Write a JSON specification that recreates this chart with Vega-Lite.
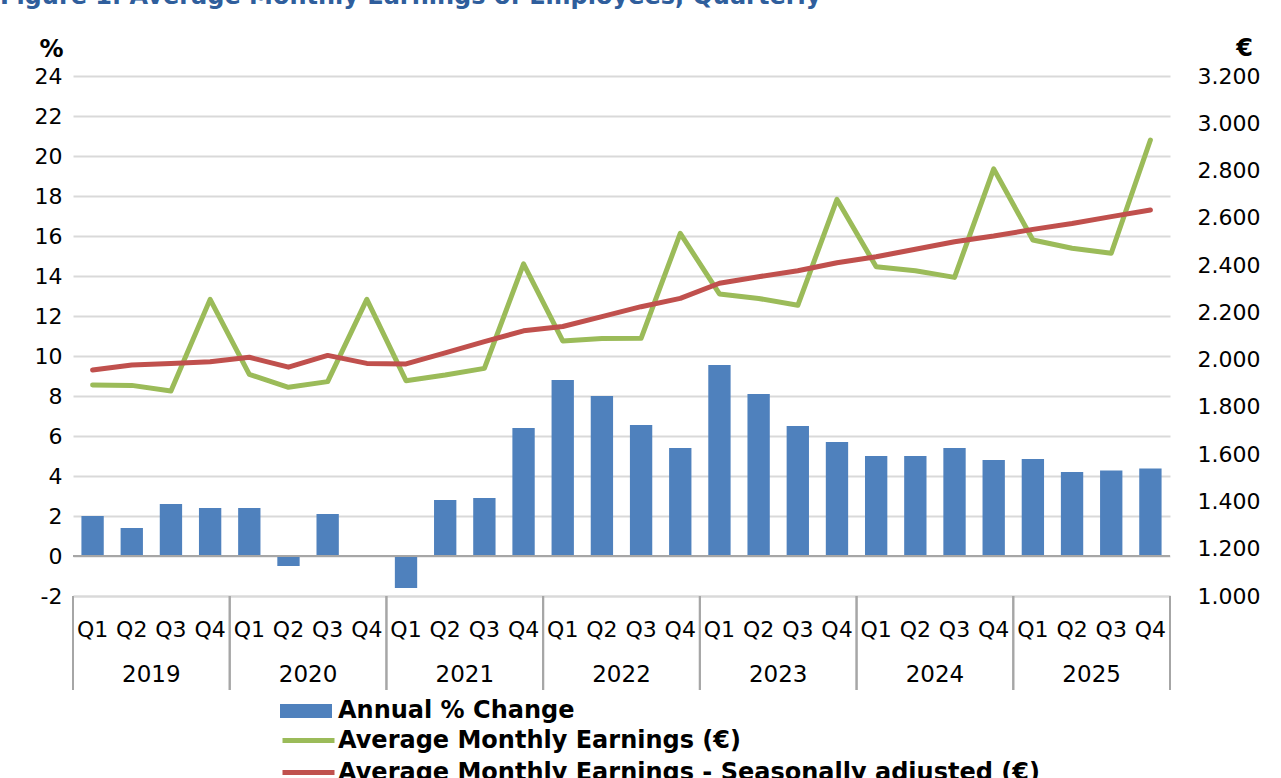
{
  "$schema": "https://vega.github.io/schema/vega-lite/v6.json",
  "width": 1097,
  "height": 520,
  "autosize": {"type": "none"},
  "padding": {"left": 73, "top": 76, "right": 111, "bottom": 182},
  "background": "white",
  "title": {
    "text": "Figure 1. Average Monthly Earnings of Employees, Quarterly",
    "anchor": "start",
    "frame": "group",
    "font": "DejaVu Sans",
    "fontSize": 24,
    "fontWeight": "bold",
    "color": "#2f5e9c",
    "dx": -73,
    "offset": 27
  },
  "config": {
    "view": {"stroke": null},
    "font": "DejaVu Sans",
    "axis": {"labelFont": "DejaVu Sans", "labelFontSize": 22, "labelColor": "#000000", "titleFont": "DejaVu Sans", "titleColor": "#000000", "labelOverlap": false},
    "axisLeft": {"tickCount": 14}
  },
  "data": {
    "values": [
      {"q": "2019 Q1", "year": "2019", "quarter": "Q1", "change": 2.0, "earn": 1893, "sa": 1956},
      {"q": "2019 Q2", "year": "2019", "quarter": "Q2", "change": 1.4, "earn": 1891, "sa": 1977},
      {"q": "2019 Q3", "year": "2019", "quarter": "Q3", "change": 2.6, "earn": 1867, "sa": 1984},
      {"q": "2019 Q4", "year": "2019", "quarter": "Q4", "change": 2.4, "earn": 2255, "sa": 1991},
      {"q": "2020 Q1", "year": "2020", "quarter": "Q1", "change": 2.4, "earn": 1938, "sa": 2010},
      {"q": "2020 Q2", "year": "2020", "quarter": "Q2", "change": -0.5, "earn": 1883, "sa": 1968},
      {"q": "2020 Q3", "year": "2020", "quarter": "Q3", "change": 2.1, "earn": 1907, "sa": 2018},
      {"q": "2020 Q4", "year": "2020", "quarter": "Q4", "change": 0.0, "earn": 2255, "sa": 1984},
      {"q": "2021 Q1", "year": "2021", "quarter": "Q1", "change": -1.6, "earn": 1911, "sa": 1982},
      {"q": "2021 Q2", "year": "2021", "quarter": "Q2", "change": 2.8, "earn": 1935, "sa": 2029},
      {"q": "2021 Q3", "year": "2021", "quarter": "Q3", "change": 2.9, "earn": 1963, "sa": 2076},
      {"q": "2021 Q4", "year": "2021", "quarter": "Q4", "change": 6.4, "earn": 2405, "sa": 2122},
      {"q": "2022 Q1", "year": "2022", "quarter": "Q1", "change": 8.8, "earn": 2079, "sa": 2140},
      {"q": "2022 Q2", "year": "2022", "quarter": "Q2", "change": 8.0, "earn": 2089, "sa": 2182},
      {"q": "2022 Q3", "year": "2022", "quarter": "Q3", "change": 6.55, "earn": 2090, "sa": 2224},
      {"q": "2022 Q4", "year": "2022", "quarter": "Q4", "change": 5.4, "earn": 2534, "sa": 2259},
      {"q": "2023 Q1", "year": "2023", "quarter": "Q1", "change": 9.55, "earn": 2278, "sa": 2323},
      {"q": "2023 Q2", "year": "2023", "quarter": "Q2", "change": 8.1, "earn": 2259, "sa": 2351},
      {"q": "2023 Q3", "year": "2023", "quarter": "Q3", "change": 6.5, "earn": 2230, "sa": 2376},
      {"q": "2023 Q4", "year": "2023", "quarter": "Q4", "change": 5.7, "earn": 2678, "sa": 2410},
      {"q": "2024 Q1", "year": "2024", "quarter": "Q1", "change": 5.0, "earn": 2393, "sa": 2435},
      {"q": "2024 Q2", "year": "2024", "quarter": "Q2", "change": 5.0, "earn": 2376, "sa": 2467},
      {"q": "2024 Q3", "year": "2024", "quarter": "Q3", "change": 5.4, "earn": 2348, "sa": 2499},
      {"q": "2024 Q4", "year": "2024", "quarter": "Q4", "change": 4.8, "earn": 2807, "sa": 2523},
      {"q": "2025 Q1", "year": "2025", "quarter": "Q1", "change": 4.85, "earn": 2506, "sa": 2551},
      {"q": "2025 Q2", "year": "2025", "quarter": "Q2", "change": 4.2, "earn": 2471, "sa": 2576},
      {"q": "2025 Q3", "year": "2025", "quarter": "Q3", "change": 4.27, "earn": 2450, "sa": 2605},
      {"q": "2025 Q4", "year": "2025", "quarter": "Q4", "change": 4.37, "earn": 2929, "sa": 2633}
    ]
  },
  "layer": [
    {
      "layer": [
        {
          "mark": {"type": "bar"},
          "encoding": {
            "x": {
              "field": "q", "type": "ordinal", "title": null,
              "scale": {"paddingInner": 0.43, "paddingOuter": 0.215},
              "axis": {"orient": "bottom", "labelExpr": "slice(datum.value, 5)", "labelAngle": 0, "ticks": false, "domainColor": "#d9d9d9", "domainWidth": 2, "labelPadding": 23, "grid": false, "labelOverlap": false}
            },
            "y": {
              "field": "change", "type": "quantitative",
              "scale": {"domain": [-2, 24], "nice": false, "zero": false},
              "axis": {
                "orient": "left", "values": [-2, 0, 2, 4, 6, 8, 10, 12, 14, 16, 18, 20, 22, 24], "tickCount": 14,
                "labelExpr": "'' + datum.value", "labelOverlap": false, "labelBound": false, "labelFlush": false,
                "domain": false, "ticks": false, "grid": true, "gridColor": "#d9d9d9", "gridWidth": 2,
                "labelPadding": 11,
                "title": "%", "titleAngle": 0, "titleX": -22, "titleY": -27, "titleAlign": "center", "titleBaseline": "middle",
                "titleFontSize": 24, "titleFontWeight": "bold"
              }
            },
            "fill": {
              "datum": "Annual % Change",
              "scale": {"domain": ["Annual % Change"], "range": ["#4f81bd"]},
              "legend": {
                "orient": "none", "legendX": 207, "legendY": 609, "title": null,
                "labelFont": "DejaVu Sans", "labelFontSize": 24, "labelFontWeight": "bold", "labelColor": "#000000",
                "symbolType": "M-1,-0.27L1,-0.27L1,0.27L-1,0.27Z", "symbolSize": 2704, "symbolStrokeWidth": 0,
                "labelOffset": 6, "labelLimit": 1000
              }
            }
          }
        },
        {
          "mark": {"type": "rule", "color": "#a6a6a6", "strokeWidth": 2},
          "encoding": {"y": {"datum": 0, "type": "quantitative"}}
        },
        {
          "transform": [{"filter": "datum.quarter === 'Q1'"}],
          "mark": {"type": "rule", "color": "#a6a6a6", "strokeWidth": 2},
          "encoding": {
            "x": {"field": "q", "type": "ordinal", "bandPosition": -0.377},
            "y": {"datum": -2, "type": "quantitative"},
            "y2": {"datum": -6.7}
          }
        },
        {
          "transform": [{"filter": "datum.quarter === 'Q4'"}],
          "mark": {"type": "rule", "color": "#a6a6a6", "strokeWidth": 2},
          "encoding": {
            "x": {"field": "q", "type": "ordinal", "bandPosition": 1.377},
            "y": {"datum": -2, "type": "quantitative"},
            "y2": {"datum": -6.7}
          }
        },
        {
          "transform": [{"filter": "datum.quarter === 'Q2'"}],
          "mark": {"type": "text", "font": "DejaVu Sans", "fontSize": 23, "color": "#000000", "baseline": "middle", "align": "center"},
          "encoding": {
            "x": {"field": "q", "type": "ordinal", "bandPosition": 1.377},
            "y": {"datum": -5.95, "type": "quantitative"},
            "text": {"field": "year"}
          }
        }
      ]
    },
    {
      "layer": [
        {
          "mark": {"type": "line", "strokeWidth": 5, "strokeCap": "round", "strokeJoin": "round"},
          "encoding": {
            "x": {"field": "q", "type": "ordinal"},
            "y": {
              "field": "earn", "type": "quantitative",
              "scale": {"domain": [1000, 3200], "nice": false, "zero": false},
              "axis": {
                "orient": "right", "values": [1000, 1200, 1400, 1600, 1800, 2000, 2200, 2400, 2600, 2800, 3000, 3200],
                "labelExpr": "replace(format(datum.value, ',.0f'), ',', '.')", "labelOverlap": false,
                "domain": false, "ticks": false, "grid": false, "labelPadding": 27,
                "title": "€", "titleAngle": 0, "titleX": 74, "titleY": -28, "titleAlign": "center", "titleBaseline": "middle",
                "titleFontSize": 24, "titleFontWeight": "bold"
              }
            },
            "stroke": {
              "datum": "Average Monthly Earnings (€)",
              "scale": {"domain": ["Average Monthly Earnings (€)"], "range": ["#9bbb59"]},
              "legend": {
                "orient": "none", "legendX": 207, "legendY": 636, "title": null,
                "labelFont": "DejaVu Sans", "labelFontSize": 24, "labelFontWeight": "bold", "labelColor": "#000000",
                "symbolType": "stroke", "symbolSize": 2704, "symbolStrokeWidth": 5,
                "labelOffset": 1, "labelLimit": 1000
              }
            }
          }
        },
        {
          "mark": {"type": "line", "strokeWidth": 5, "strokeCap": "round", "strokeJoin": "round"},
          "encoding": {
            "x": {"field": "q", "type": "ordinal"},
            "y": {"field": "sa", "type": "quantitative"},
            "color": {
              "datum": "Average Monthly Earnings - Seasonally adjusted (€)",
              "scale": {"domain": ["Average Monthly Earnings - Seasonally adjusted (€)"], "range": ["#c0504d"]},
              "legend": {
                "orient": "none", "legendX": 207, "legendY": 668, "title": null,
                "labelFont": "DejaVu Sans", "labelFontSize": 24, "labelFontWeight": "bold", "labelColor": "#000000",
                "symbolType": "stroke", "symbolSize": 2704, "symbolStrokeWidth": 5,
                "labelOffset": 1, "labelLimit": 1000
              }
            }
          }
        }
      ]
    }
  ],
  "resolve": {"scale": {"y": "independent"}}
}
